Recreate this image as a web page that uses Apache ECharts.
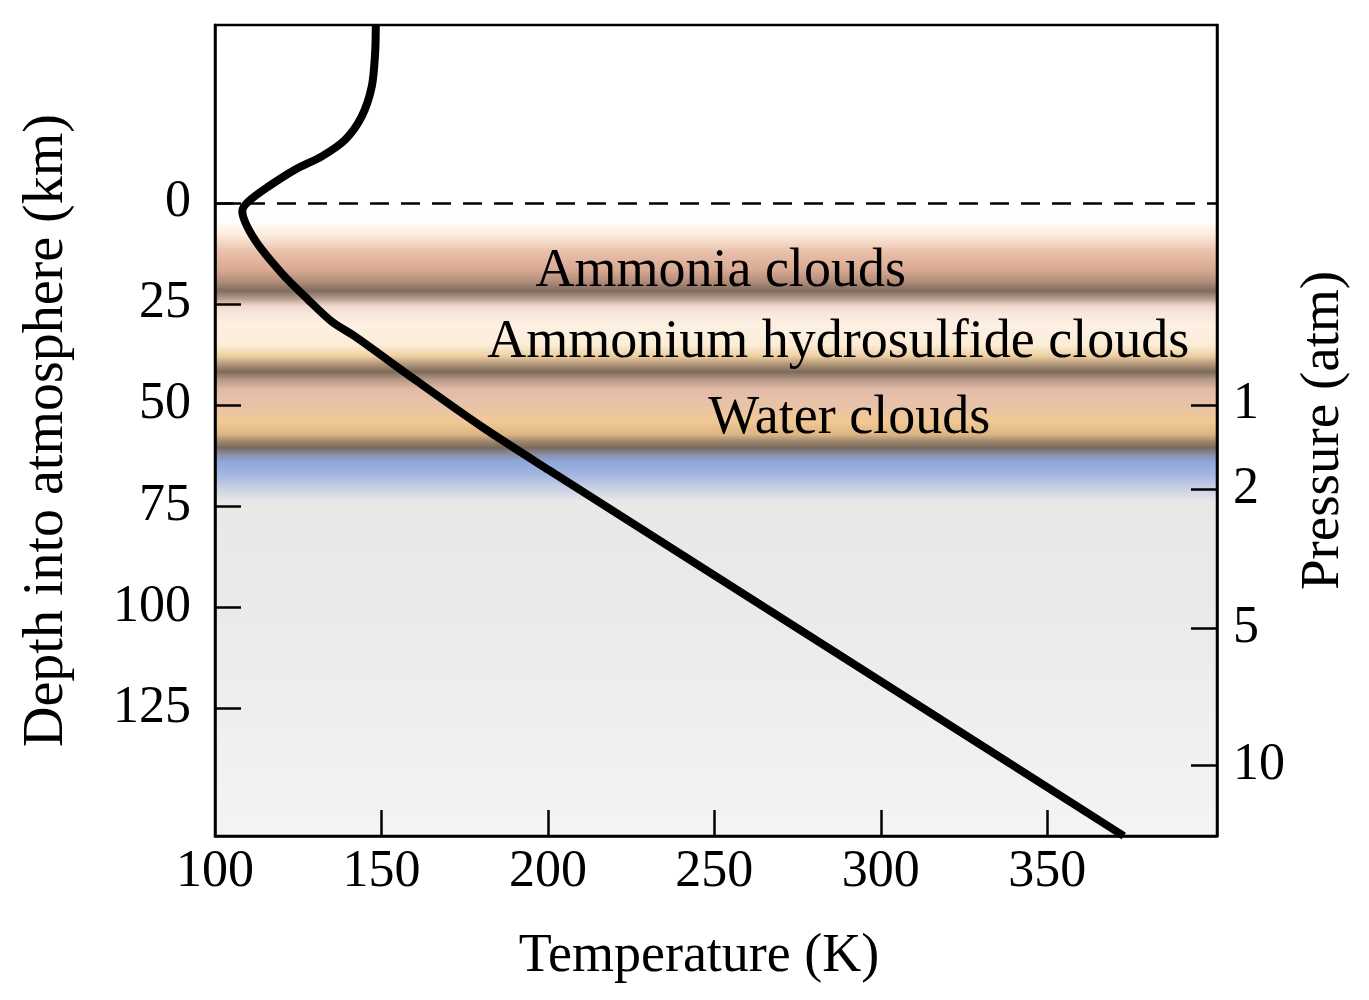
<!DOCTYPE html>
<html>
<head>
<meta charset="utf-8">
<script src="https://cdn.jsdelivr.net/npm/echarts@6/dist/echarts.min.js"></script>
<style>
  html, body { margin: 0; padding: 0; background: #fff; }
  #chart { width: 1369px; height: 1000px; }
</style>
</head>
<body>
<div id="chart"></div>
<script>
// temperature profile (K) vs depth into atmosphere (km)
const profileTemp  = [148.3, 148.1, 147.1, 144.1, 139.1, 132.1, 124.0, 116.0, 110.0, 108.2, 112.0, 120.0, 128.0, 135.1, 142.1, 160.1, 180.1, 200.2, 286.6, 373.0]
const profileDepth = [-44, -37.1, -28.8, -21.4, -15.6, -11.5, -8.2, -4.0, -0.3, 2.0, 9.2, 17.4, 24.0, 29.4, 33.1, 43.8, 55.4, 66.1, 111.4, 156.7]

const depthTicks = [0, 25, 50, 75, 100, 125]
const tempTicks = [100, 150, 200, 250, 300, 350]
const pressureLabels = ['1', '2', '5', '10']
const pressureDepths = [50, 71, 105.2, 139.3]

const cloudNames = ['Ammonia clouds', 'Ammonium hydrosulfide clouds', 'Water clouds']
const cloudLabelTemp = [251.9, 287.2, 290.5]
const cloudLabelDepth = [17.0, 34.6, 53.4]

// cloud deck region and deep atmosphere (km)
const cloudTop = 2.5
const cloudBottom = 74
const depthMin = -44
const depthMax = 156.7

const serif = 'Liberation Serif'
const ink = '#000'

const chart = echarts.init(document.getElementById('chart'))

const cloudGradient = new echarts.graphic.LinearGradient(0, 0, 0, 1, [
  { offset: 0, color: '#ffffff' },
  { offset: 0.031, color: '#fffdfa' },
  { offset: 0.076, color: '#fcecdc' },
  { offset: 0.135, color: '#e9c0aa' },
  { offset: 0.197, color: '#d9a993' },
  { offset: 0.239, color: '#b08c78' },
  { offset: 0.270, color: '#7e6c5e' },
  { offset: 0.298, color: '#b89e8e' },
  { offset: 0.322, color: '#efd8cc' },
  { offset: 0.346, color: '#f8e6dc' },
  { offset: 0.388, color: '#fdf0e2' },
  { offset: 0.457, color: '#fcedd8' },
  { offset: 0.495, color: '#eed0a2' },
  { offset: 0.522, color: '#b59a7c' },
  { offset: 0.550, color: '#7c6a5a' },
  { offset: 0.578, color: '#b89a88' },
  { offset: 0.612, color: '#e3bca8' },
  { offset: 0.664, color: '#e8c2a8' },
  { offset: 0.723, color: '#f1c995' },
  { offset: 0.768, color: '#dcb482' },
  { offset: 0.789, color: '#a08a70' },
  { offset: 0.813, color: '#7a6a5c' },
  { offset: 0.837, color: '#8a90a8' },
  { offset: 0.862, color: '#8fa7dc' },
  { offset: 0.907, color: '#a4b6e0' },
  { offset: 0.958, color: '#cdd3e4' },
  { offset: 1, color: '#e8e8e9' }
])

const deepGradient = new echarts.graphic.LinearGradient(0, 0, 0, 1, [
  { offset: 0, color: '#e8e8e9' },
  { offset: 0.3, color: '#eaeaea' },
  { offset: 0.6, color: '#eeeeee' },
  { offset: 1, color: '#f4f4f4' }
])

const option = {
  backgroundColor: '#fff',
  animation: false,
  grid: {
    left: 215, right: 152, top: 25, bottom: 164, z: 10,
    show: true, borderColor: ink, borderWidth: 2.5, backgroundColor: 'transparent'
  },
  xAxis: {
    type: 'value', min: 100, max: 401, z: 10,
    name: 'Temperature (K)', nameLocation: 'middle', nameGap: 94,
    nameTextStyle: { fontFamily: serif, fontSize: 54, color: ink, padding: [0, 34, 0, 0] },
    axisLine: { onZero: false, lineStyle: { color: ink, width: 2.5 } },
    axisTick: { inside: true, length: 26, lineStyle: { color: ink, width: 2.5 }, customValues: tempTicks.slice(1) },
    axisLabel: { customValues: tempTicks, fontFamily: serif, fontSize: 52, color: ink, margin: 10 },
    splitLine: { show: false }
  },
  yAxis: [{
    type: 'value', min: depthMin, max: depthMax, inverse: true, z: 10,
    name: 'Depth into atmosphere (km)', nameLocation: 'middle', nameGap: 140, nameRotate: 90,
    nameTextStyle: { fontFamily: serif, fontSize: 56, color: ink },
    axisLine: { onZero: false, lineStyle: { color: ink, width: 2.5 } },
    axisTick: { inside: true, length: 26, lineStyle: { color: ink, width: 2.5 }, customValues: depthTicks },
    axisLabel: { customValues: depthTicks, fontFamily: serif, fontSize: 52, color: ink, margin: 24 },
    splitLine: { show: false }
  }, {
    type: 'value', min: depthMin, max: depthMax, inverse: true, position: 'right', z: 10,
    name: 'Pressure (atm)', nameLocation: 'middle', nameGap: 70, nameRotate: 90,
    nameTextStyle: { fontFamily: serif, fontSize: 55, color: ink },
    axisLine: { show: true, onZero: false, lineStyle: { color: ink, width: 2.5 } },
    axisTick: { show: true, inside: true, length: 26, lineStyle: { color: ink, width: 2.5 }, customValues: pressureDepths },
    axisLabel: {
      show: true, customValues: pressureDepths, fontFamily: serif, fontSize: 52, color: ink, margin: 16,
      formatter: v => {
        const i = pressureDepths.findIndex(p => Math.abs(p - v) < 1e-6)
        return i >= 0 ? pressureLabels[i] : ''
      }
    },
    splitLine: { show: false }
  }],
  series: [{
    name: 'layers',
    type: 'line',
    data: [],
    z: 1,
    silent: true,
    markArea: {
      silent: true,
      data: [
        [{ yAxis: cloudTop, itemStyle: { color: cloudGradient, opacity: 1 } }, { yAxis: cloudBottom }],
        [{ yAxis: cloudBottom, itemStyle: { color: deepGradient, opacity: 1 } }, { yAxis: depthMax }]
      ]
    },
    markLine: {
      silent: true,
      symbol: ['none', 'none'],
      label: { show: false },
      lineStyle: { color: ink, width: 2.5, type: [19, 12], opacity: 1 },
      data: [{ yAxis: 0 }]
    }
  }, {
    name: 'labels',
    type: 'scatter',
    z: 4,
    silent: true,
    symbolSize: 0,
    data: cloudNames.map((n, i) => ({ name: n, value: [cloudLabelTemp[i], cloudLabelDepth[i]] })),
    label: {
      show: true, position: 'inside', formatter: '{b}',
      fontFamily: serif, fontSize: 54, color: ink, opacity: 1,
      textBorderWidth: 0, textBorderColor: 'transparent'
    }
  }, {
    name: 'profile',
    type: 'line',
    z: 5,
    silent: true,
    smooth: 0.3,
    showSymbol: false,
    lineStyle: { color: '#000', width: 8 },
    data: profileTemp.map((t, i) => [t, profileDepth[i]])
  }]
}

chart.setOption(option)
</script>
</body>
</html>
